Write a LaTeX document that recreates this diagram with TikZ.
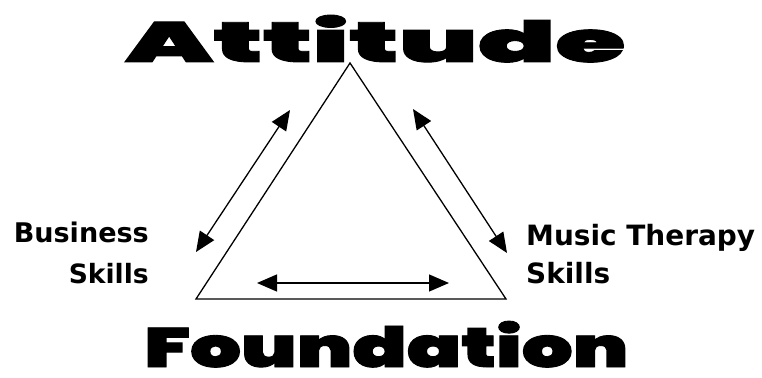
\documentclass[tikz,border=0pt]{standalone}
\usepackage{fontspec}
\usepackage{graphicx}
\usetikzlibrary{arrows.meta}
\newfontfamily\heavyfont{Poppins Black}[FakeBold=1.5]
\newfontfamily\labelfont{DejaVu Sans Bold}
\tikzset{
  edge/.style={line width=1.3pt},
  dblarrow/.style={line width=1.3pt,{Triangle[length=20pt,width=17pt]}-{Triangle[length=20pt,width=17pt]}},
  title/.style={inner sep=0pt,anchor=base west},
  lbl/.style={inner sep=0pt,font=\labelfont\fontsize{26}{26}\selectfont}
}
\begin{document}
\begin{tikzpicture}[x=1pt,y=-1pt]
\useasboundingbox (0,0) rectangle (762,377);
% triangle
\coordinate (top) at (350,63);
\coordinate (bl) at (196,299);
\coordinate (br) at (506,299);
\draw[edge,line join=miter] (top) -- (bl) -- (br) -- cycle;
% arrows
\coordinate (la1) at (290,110);
\coordinate (la2) at (196,252);
\coordinate (ra1) at (413,109);
\coordinate (ra2) at (507,253);
\coordinate (ba1) at (257,283);
\coordinate (ba2) at (449,283);
\draw[dblarrow] (la1) -- (la2);
\draw[dblarrow] (ra1) -- (ra2);
\draw[dblarrow] (ba1) -- (ba2);
% titles
\node[title] (att) at (125,62) {\resizebox{500pt}{47pt}{\heavyfont Attitude}};
\node[title] (fnd) at (144,367) {\resizebox{484pt}{46pt}{\heavyfont Foundation}};
% labels
\node[lbl,anchor=base east] (bus1) at (149,242) {\resizebox{135pt}{!}{Business}};
\node[lbl,anchor=base east] (bus2) at (149,283) {\resizebox{80pt}{!}{Skills}};
\node[lbl,anchor=base west] (mus1) at (526,245) {\resizebox{229pt}{!}{Music Therapy}};
\node[lbl,anchor=base west] (mus2) at (526,283) {\resizebox{84pt}{!}{Skills}};
\end{tikzpicture}
\end{document}
